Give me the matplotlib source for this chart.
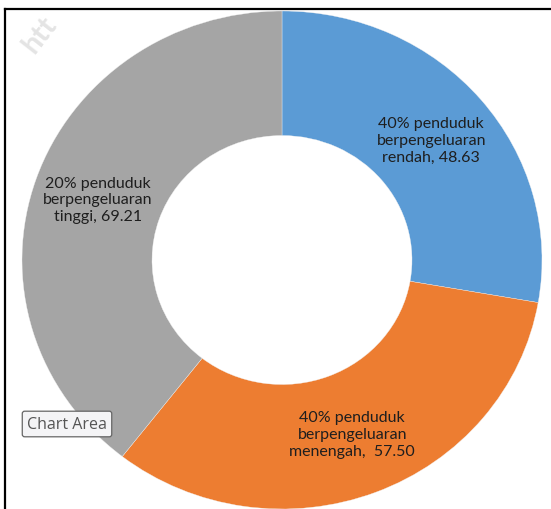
import matplotlib

matplotlib.use("Agg")
import matplotlib.pyplot as plt
from matplotlib.lines import Line2D

# slice data (clockwise from 12 o'clock)
LABELS = [
    "40% penduduk\nberpengeluaran\nrendah, 48.63",
    "40% penduduk\nberpengeluaran\nmenengah,  57.50",
    "20% penduduk\nberpengeluaran\ntinggi, 69.21",
]
VALUES = [48.63, 57.50, 69.21]
COLORS = ["#5B9BD5", "#ED7D31", "#A5A5A5"]

W, H = 551, 510
DPI = 100

plt.rcParams["font.family"] = ["Lato", "DejaVu Sans"]

fig = plt.figure(figsize=(W / DPI, H / DPI), dpi=DPI)
fig.patch.set_facecolor("white")
ax = fig.add_axes([0, 0, 1, 1])

wedges, texts = ax.pie(
    VALUES,
    labels=LABELS,
    colors=COLORS,
    startangle=90,
    counterclock=False,
    radius=1.0,
    labeldistance=0.75,
    wedgeprops=dict(width=0.5, edgecolor="#f2f2f2", linewidth=0.25),
    textprops=dict(fontsize=11.5, color="#1e1e1e", linespacing=1.25),
)
for t in texts:
    t.set_ha("center")
    t.set_va("center")

# the reference is slightly squashed vertically, so no equal aspect
ax.set_aspect("auto")
ax.set_xlim(-282 / 260, (W - 282) / 260)
ax.set_ylim(-(H - 261) / 249, 261 / 249)
ax.axis("off")

# chart frame (top and left edges visible)
fig.add_artist(Line2D([5 / W, 1], [1 - 10 / H, 1 - 10 / H], color="black", lw=1.6))
fig.add_artist(Line2D([5 / W, 5 / W], [0, 1 - 10 / H], color="black", lw=1.6))

# faint watermark in the corner
fig.text(18 / W, 1 - 58 / H, "htt", rotation=52, fontsize=21, fontweight="bold",
         color="#e4e4e4", ha="left", va="bottom", zorder=0)

# Excel tooltip
fig.text(67 / W, 1 - 425 / H, "Chart Area", fontsize=11.5, color="#555555",
         family=["Open Sans", "DejaVu Sans"], ha="center", va="center",
         bbox=dict(boxstyle="round,pad=0.3,rounding_size=0.15", facecolor="#f4f4f6",
                   edgecolor="#666666", linewidth=0.9))

fig.savefig("out.png", dpi=DPI)
